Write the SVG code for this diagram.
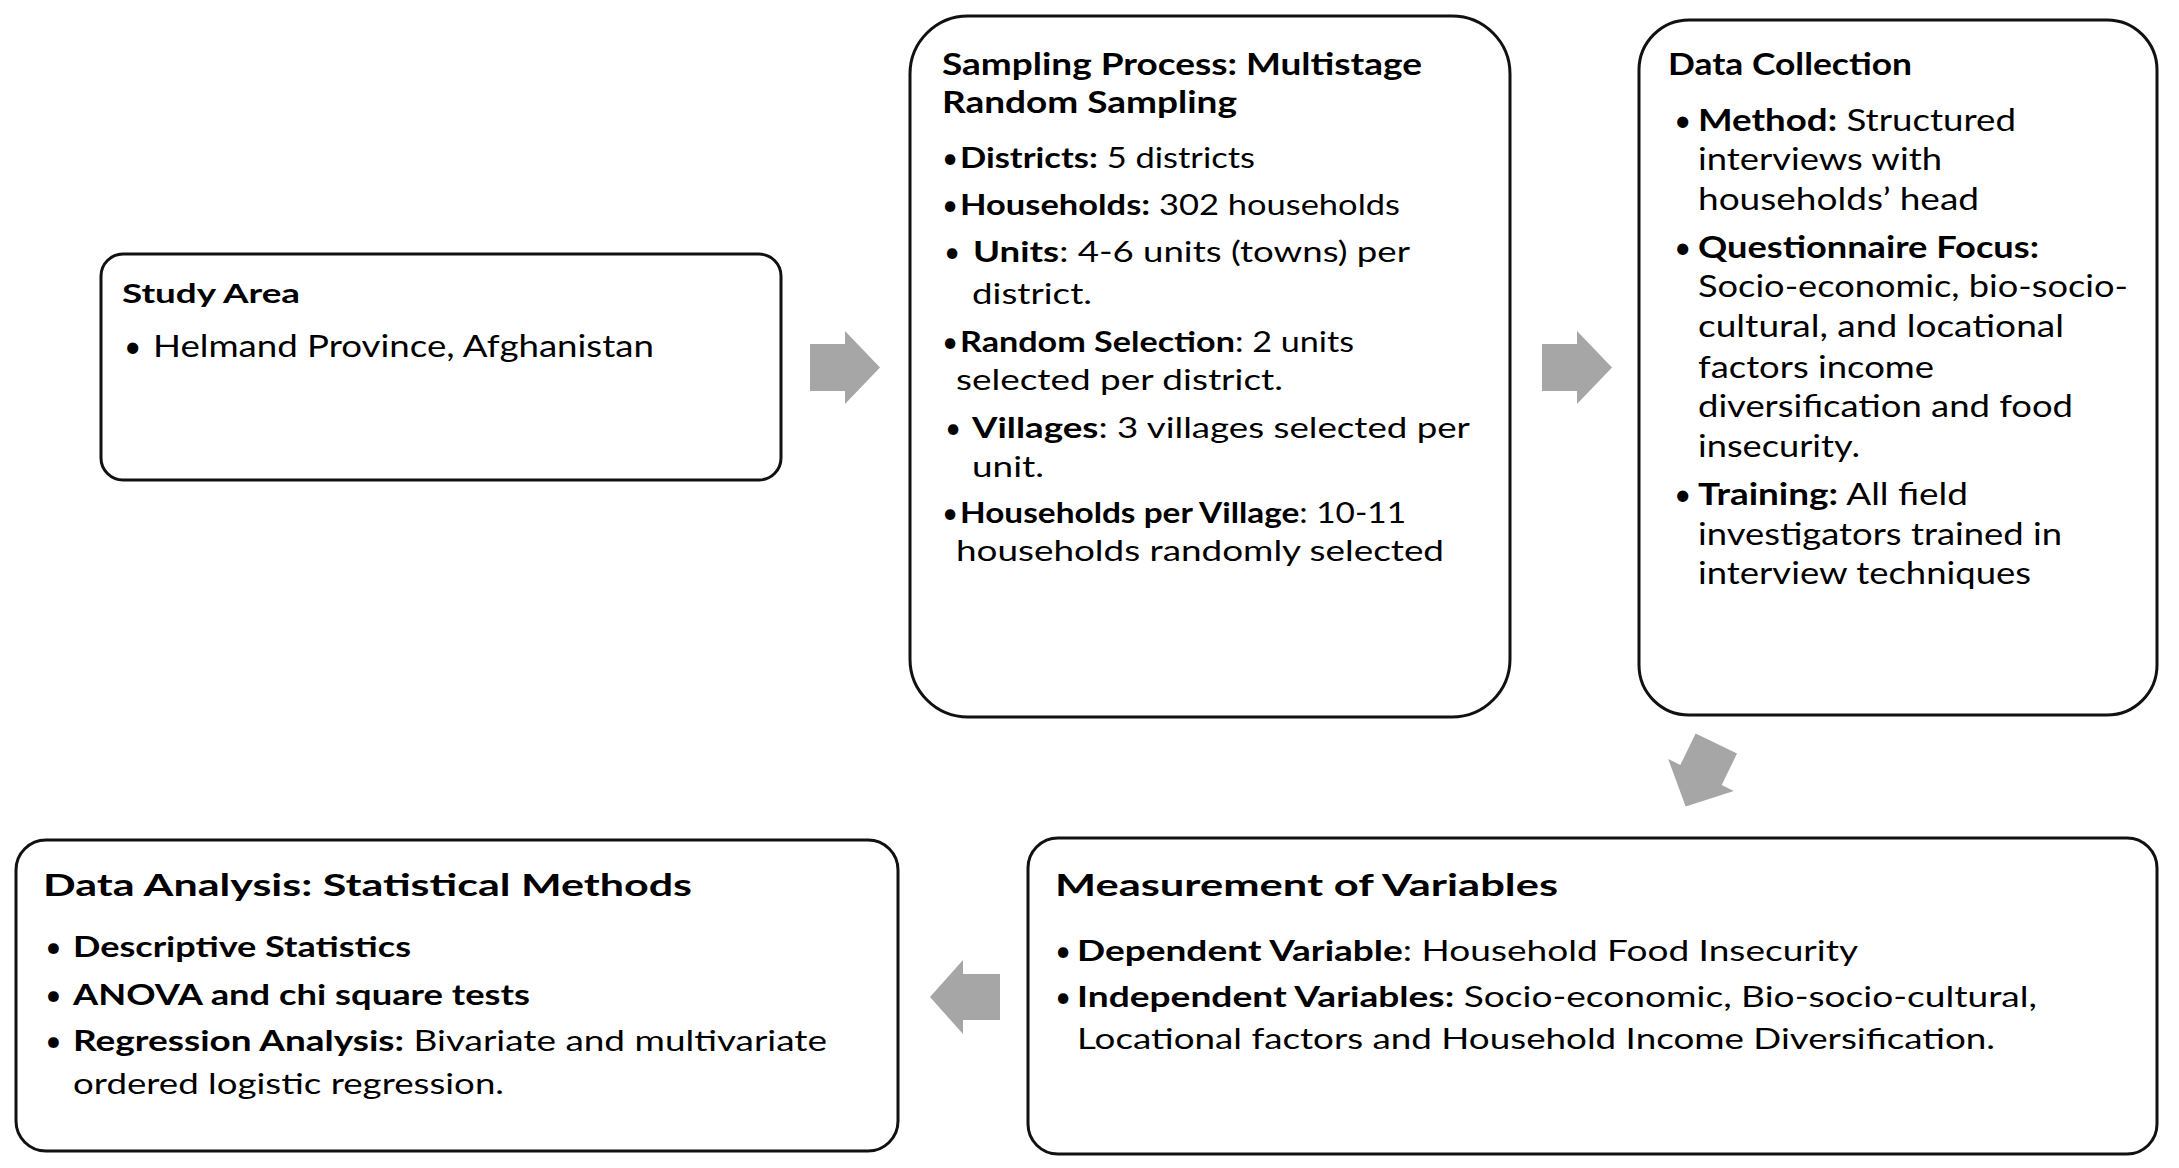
<svg xmlns="http://www.w3.org/2000/svg" width="2179" height="1168" viewBox="0 0 2179 1168">
<style>
.box{fill:#fff;stroke:#111;stroke-width:3}
.t{font-family:Lato,"Open Sans","Liberation Sans",sans-serif;fill:#000}
.b{font-weight:700}
.arr{fill:#A6A6A6}
</style>
<rect width="2179" height="1168" fill="#fff"/>
<g id="connectors">
<polygon class="arr" points="810,344 845,344 845,331 880,367.5 845,404 845,391 810,391"/>
<polygon class="arr" points="1542,344 1577,344 1577,331 1612,367.5 1577,404 1577,391 1542,391"/>
<polygon class="arr" points="-35,-23 0,-23 0,-36.5 35,0 0,36.5 0,23 -35,23" transform="translate(1701,775) rotate(116)"/>
<polygon class="arr" points="1000,974 963,974 963,960 930,997 963,1034 963,1020 1000,1020"/>
</g>
<g id="study-area">
<rect class="box" x="101" y="254" width="680" height="226" rx="22"/>
<text class="t b" x="122" y="303" font-size="27" textLength="178" lengthAdjust="spacingAndGlyphs">Study Area</text>
<text class="t" x="124" y="357" font-size="30">•</text>
<text class="t" x="153" y="357" font-size="30" textLength="501" lengthAdjust="spacingAndGlyphs">Helmand Province, Afghanistan</text>
</g>
<g id="sampling-process">
<rect class="box" x="910" y="16" width="600" height="701" rx="58"/>
<text class="t b" x="942" y="75" font-size="31" textLength="480" lengthAdjust="spacingAndGlyphs">Sampling Process: Multistage</text>
<text class="t b" x="942" y="113" font-size="31" textLength="295" lengthAdjust="spacingAndGlyphs">Random Sampling</text>
<text class="t" x="942" y="168" font-size="28">•</text>
<text class="t" x="960" y="168" font-size="28" textLength="295" lengthAdjust="spacingAndGlyphs"><tspan class="b">Districts:</tspan> 5 districts</text>
<text class="t" x="942" y="215" font-size="28">•</text>
<text class="t" x="960" y="215" font-size="28" textLength="440" lengthAdjust="spacingAndGlyphs"><tspan class="b">Households:</tspan> 302 households</text>
<text class="t" x="944" y="262" font-size="28">•</text>
<text class="t" x="973" y="262" font-size="28" textLength="437" lengthAdjust="spacingAndGlyphs"><tspan class="b">Units</tspan>: 4-6 units (towns) per</text>
<text class="t" x="972" y="304" font-size="28" textLength="120" lengthAdjust="spacingAndGlyphs">district.</text>
<text class="t" x="942" y="352" font-size="28">•</text>
<text class="t" x="960" y="352" font-size="28" textLength="394" lengthAdjust="spacingAndGlyphs"><tspan class="b">Random Selection</tspan>: 2 units</text>
<text class="t" x="956" y="390" font-size="28" textLength="327" lengthAdjust="spacingAndGlyphs">selected per district.</text>
<text class="t" x="945" y="438" font-size="28">•</text>
<text class="t" x="972" y="438" font-size="28" textLength="498" lengthAdjust="spacingAndGlyphs"><tspan class="b">Villages</tspan>: 3 villages selected per</text>
<text class="t" x="972" y="477" font-size="28" textLength="72" lengthAdjust="spacingAndGlyphs">unit.</text>
<text class="t" x="942" y="523" font-size="28">•</text>
<text class="t" x="960" y="523" font-size="28" textLength="446" lengthAdjust="spacingAndGlyphs"><tspan class="b">Households per Village</tspan>: 10-11</text>
<text class="t" x="956" y="561" font-size="28" textLength="488" lengthAdjust="spacingAndGlyphs">households randomly selected</text>
</g>
<g id="data-collection">
<rect class="box" x="1639" y="20" width="518" height="695" rx="50"/>
<text class="t b" x="1668" y="75" font-size="30" textLength="244" lengthAdjust="spacingAndGlyphs">Data Collection</text>
<text class="t" x="1674" y="131" font-size="30">•</text>
<text class="t" x="1698" y="131" font-size="30" textLength="318" lengthAdjust="spacingAndGlyphs"><tspan class="b">Method:</tspan> Structured</text>
<text class="t" x="1698" y="170" font-size="30" textLength="244" lengthAdjust="spacingAndGlyphs">interviews with</text>
<text class="t" x="1698" y="210" font-size="30" textLength="281" lengthAdjust="spacingAndGlyphs">households’ head</text>
<text class="t" x="1674" y="258" font-size="30">•</text>
<text class="t b" x="1698" y="258" font-size="30" textLength="341" lengthAdjust="spacingAndGlyphs">Questionnaire Focus:</text>
<text class="t" x="1698" y="297" font-size="30" textLength="430" lengthAdjust="spacingAndGlyphs">Socio-economic, bio-socio-</text>
<text class="t" x="1698" y="337" font-size="30" textLength="366" lengthAdjust="spacingAndGlyphs">cultural, and locational</text>
<text class="t" x="1698" y="378" font-size="30" textLength="236" lengthAdjust="spacingAndGlyphs">factors income</text>
<text class="t" x="1698" y="417" font-size="30" textLength="375" lengthAdjust="spacingAndGlyphs">diversification and food</text>
<text class="t" x="1698" y="457" font-size="30" textLength="162" lengthAdjust="spacingAndGlyphs">insecurity.</text>
<text class="t" x="1674" y="505" font-size="30">•</text>
<text class="t" x="1698" y="505" font-size="30" textLength="270" lengthAdjust="spacingAndGlyphs"><tspan class="b">Training:</tspan> All field</text>
<text class="t" x="1698" y="545" font-size="30" textLength="364" lengthAdjust="spacingAndGlyphs">investigators trained in</text>
<text class="t" x="1698" y="584" font-size="30" textLength="333" lengthAdjust="spacingAndGlyphs">interview techniques</text>
</g>
<g id="measurement-of-variables">
<rect class="box" x="1028" y="838" width="1129" height="316" rx="30"/>
<text class="t b" x="1055" y="896" font-size="30" textLength="503" lengthAdjust="spacingAndGlyphs">Measurement of Variables</text>
<text class="t" x="1055" y="961" font-size="28">•</text>
<text class="t" x="1077" y="961" font-size="28" textLength="781" lengthAdjust="spacingAndGlyphs"><tspan class="b">Dependent Variable</tspan>: Household Food Insecurity</text>
<text class="t" x="1055" y="1007" font-size="28">•</text>
<text class="t" x="1077" y="1007" font-size="28" textLength="960" lengthAdjust="spacingAndGlyphs"><tspan class="b">Independent Variables:</tspan> Socio-economic, Bio-socio-cultural,</text>
<text class="t" x="1077" y="1049" font-size="28" textLength="918" lengthAdjust="spacingAndGlyphs">Locational factors and Household Income Diversification.</text>
</g>
<g id="data-analysis">
<rect class="box" x="16" y="840" width="882" height="311" rx="30"/>
<text class="t b" x="43" y="896" font-size="30" textLength="649" lengthAdjust="spacingAndGlyphs">Data Analysis: Statistical Methods</text>
<text class="t" x="45" y="957" font-size="29">•</text>
<text class="t b" x="73" y="957" font-size="29" textLength="338" lengthAdjust="spacingAndGlyphs">Descriptive Statistics</text>
<text class="t" x="45" y="1005" font-size="29">•</text>
<text class="t b" x="73" y="1005" font-size="29" textLength="457" lengthAdjust="spacingAndGlyphs">ANOVA and chi square tests</text>
<text class="t" x="45" y="1051" font-size="29">•</text>
<text class="t" x="73" y="1051" font-size="29" textLength="754" lengthAdjust="spacingAndGlyphs"><tspan class="b">Regression Analysis:</tspan> Bivariate and multivariate</text>
<text class="t" x="73" y="1094" font-size="29" textLength="431" lengthAdjust="spacingAndGlyphs">ordered logistic regression.</text>
</g>
</svg>
